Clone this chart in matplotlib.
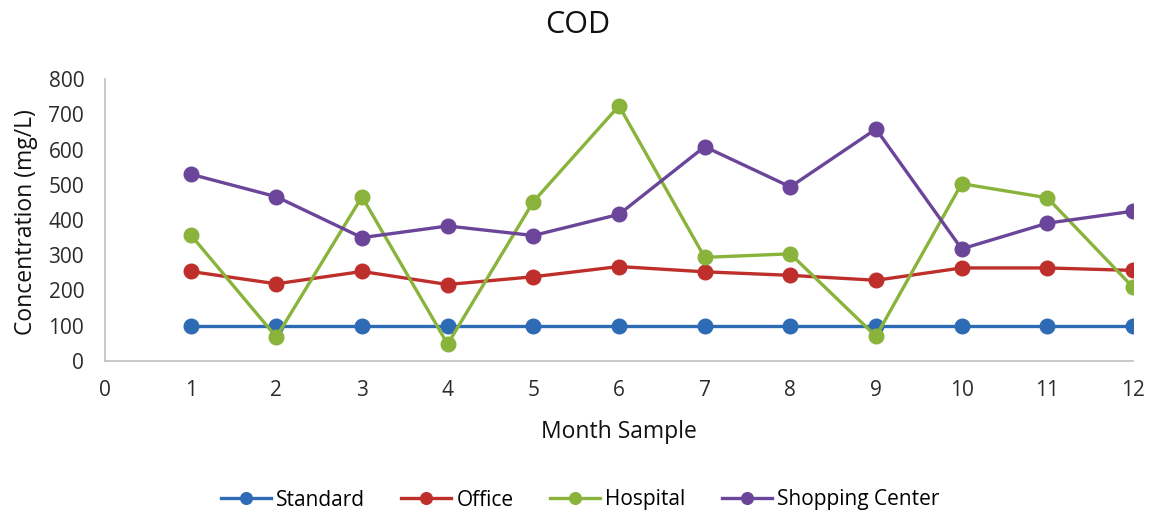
import matplotlib
matplotlib.use("Agg")
import matplotlib.pyplot as plt

plt.rcParams['font.family'] = ['Open Sans', 'DejaVu Sans']

months = [1, 2, 3, 4, 5, 6, 7, 8, 9, 10, 11, 12]
standard = [100] * 12
office = [254, 219, 254, 217, 239, 268, 253, 243, 229, 264, 264, 257]
hospital = [358, 68, 466, 48, 452, 724, 294, 304, 70, 503, 463, 209]
shopping = [530, 466, 350, 383, 356, 416, 608, 494, 658, 318, 391, 425]

series = [
    ("Standard", standard, "#2E6BB5"),
    ("Office", office, "#BE2F2B"),
    ("Hospital", hospital, "#8AB33C"),
    ("Shopping Center", shopping, "#6A459A"),
]

W, H = 1155, 513
fig = plt.figure(figsize=(W / 100, H / 100), dpi=100)
ax = fig.add_axes([105 / W, 1 - 361 / H, 1028 / W, 282 / H])

for name, vals, color in series:
    ax.plot(months, vals, color=color, linewidth=2.4, marker='o',
            markersize=10.5, label=name)

ax.set_xlim(0, 12)
ax.set_ylim(0, 800)
ax.set_xticks(range(0, 13))
ax.set_yticks(range(0, 801, 100))
ax.tick_params(length=0, labelsize=15, colors='#2b2b2b')
ax.tick_params(axis='x', pad=14)
ax.tick_params(axis='y', pad=15)
for side in ('top', 'right'):
    ax.spines[side].set_visible(False)
for side in ('left', 'bottom'):
    ax.spines[side].set_color('#BFBFBF')
    ax.spines[side].set_linewidth(1.2)

fig.text(0.5, 1 - 25 / H, "COD", fontsize=22, ha='center', va='center',
         color='#111111')
fig.text(619 / W, 1 - 432 / H, "Month Sample", fontsize=16.5, ha='center',
         va='center', color='#111111')
fig.text(26 / W, 1 - 222 / H, "Concentration (mg/L)", fontsize=16.5,
         ha='center', va='center', rotation=90, color='#111111')

fig.legend(loc='center', bbox_to_anchor=(580 / W, 1 - 500 / H), ncol=4,
           frameon=False, fontsize=15, handlelength=2.4, columnspacing=1.75,
           handletextpad=0.25, markerscale=0.8)

fig.savefig("out.png", dpi=100)
